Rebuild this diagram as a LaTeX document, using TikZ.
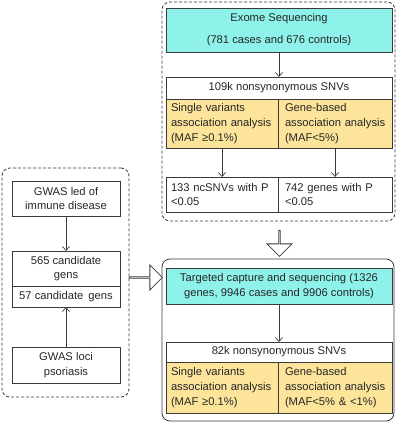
\documentclass[tikz,border=0pt]{standalone}
\usepackage{fontspec}
\setmainfont{Liberation Sans}
\usetikzlibrary{arrows.meta,shapes.arrows}
\definecolor{cyanf}{HTML}{8EF2EA}
\definecolor{yelf}{HTML}{FDE49B}
\definecolor{linec}{HTML}{3A3A3A}
\begin{document}
\begin{tikzpicture}[x=1pt,y=-1pt,
  font=\fontsize{11.2}{14.5}\selectfont,
  cellc/.style={draw=linec, line width=0.8pt, inner sep=0pt, outer sep=0pt, anchor=north west, align=center, text=black!85,
    execute at begin node={\hyphenpenalty=10000\exhyphenpenalty=10000}},
  celll/.style={cellc, align=left, inner xsep=5pt},
  cellr/.style={cellc, align=left, inner xsep=7pt},
  three/.style={font=\fontsize{11.2}{15}\selectfont},
  grp/.style={draw=linec, line width=0.8pt, rounded corners=8pt, inner sep=0pt, outer sep=0pt, anchor=north west},
  dgrp/.style={grp, dash pattern=on 3pt off 2pt},
  arr/.style={draw=linec, line width=0.7pt, -{Straight Barb[length=4pt,width=7pt]}},
  blockarrow/.style={single arrow, draw=linec, fill=white, line width=0.8pt, inner sep=0pt, minimum width=25pt, single arrow head extend=6pt}
]
\useasboundingbox (0,0) rectangle (400,423);

% groups
\node[dgrp, minimum width=233pt, minimum height=219pt] (topgrp) at (162,2) {};
\node[dgrp, minimum width=127pt, minimum height=229pt] (leftgrp) at (2,168) {};
\node[grp, minimum width=232pt, minimum height=162pt] (botgrp) at (162,259) {};

% top group
\node[cellc, fill=cyanf, minimum width=226pt, minimum height=44pt] (exome) at (166,8) {Exome Sequencing\\[7.5pt](781 cases and 676 controls)};
\node[cellc, minimum width=226pt, minimum height=22pt] (snvA) at (166,77) {109k nonsynonymous SNVs};
\node[celll, three, fill=yelf, text width=102pt, minimum height=49pt] (svA) at (166,99) {\mbox{Single variants}\\\mbox{association analysis}\\\mbox{(MAF ≥0.1\%)}};
\node[cellr, three, fill=yelf, text width=100pt, minimum height=49pt] (gbA) at (278,99) {\mbox{Gene-based}\\\mbox{association analysis}\\\mbox{(MAF<5\%)}};
\node[celll, text width=102pt, minimum height=35pt] (pA) at (166,177) {\mbox{133 ncSNVs with P}\\\mbox{<0.05}};
\node[cellr, text width=100pt, minimum height=35pt] (pB) at (278,177) {\mbox{742 genes with P}\\\mbox{<0.05}};

% bottom group
\node[cellc, fill=cyanf, minimum width=226pt, minimum height=36pt] (tcs) at (166,268) {Targeted capture and sequencing (1326\\genes, 9946 cases and 9906 controls)};
\node[cellc, minimum width=226pt, minimum height=20pt] (snvB) at (166,342) {82k nonsynonymous SNVs};
\node[celll, three, fill=yelf, text width=102pt, minimum height=51pt] (svB) at (166,362) {\mbox{Single variants}\\\mbox{association analysis}\\\mbox{(MAF ≥0.1\%)}};
\node[cellr, three, fill=yelf, text width=100pt, minimum height=51pt] (gbB) at (278,362) {\mbox{Gene-based}\\\mbox{association analysis}\\\mbox{(MAF<5\% \& <1\%)}};

% left group
\node[cellc, minimum width=108pt, minimum height=35pt] (gwasA) at (12,181) {GWAS led of\\immune disease};
\node[cellc, minimum width=108pt, minimum height=35pt] (c565) at (12,251) {565 candidate\\gens};
\node[cellc, minimum width=108pt, minimum height=21pt] (c57) at (12,286) {57 candidate\hspace{2pt} gens};
\node[cellc, minimum width=108pt, minimum height=36pt] (gwasB) at (12,347) {GWAS loci\\psoriasis};

% connectors
\draw[arr] (exome.south) -- (snvA.north);
\draw[arr] (svA.south) -- (pA.north);
\draw[arr] (gbA.south) -- (pB.north);
\draw[arr] (tcs.south) -- (snvB.north);
\draw[arr] (gwasA.south) -- (c565.north);
\draw[arr] (gwasB.north) -- (c57.south);

% block arrows
\node[blockarrow, minimum height=26pt, shape border rotate=270] (downarrow) at (279.5,243) {};
\node[blockarrow, minimum height=33pt] (rightarrow) at (145.5,277.5) {};
\end{tikzpicture}
\end{document}
